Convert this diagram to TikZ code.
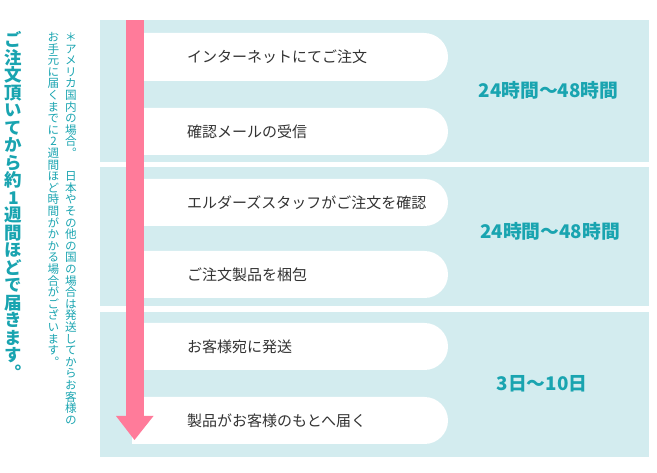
\documentclass[tikz,border=0pt]{standalone}
\usepackage{fontspec}
\setmainfont{Noto Sans CJK JP}
\newfontfamily\cjk{Noto Sans CJK JP}
\newfontfamily\cjkv[RawFeature={+vert}]{Noto Sans CJK JP}
\definecolor{band}{HTML}{D3ECEF}
\definecolor{teal}{HTML}{19A4B0}
\definecolor{pink}{HTML}{FF7B9A}
\definecolor{ink}{HTML}{333333}
\ExplSyntaxOn
\NewDocumentCommand\vstack{m}{
  \vbox{\offinterlineskip
    \tl_map_inline:nn {#1}{\hbox to 1em{\hss\vrule width 0pt height .88em depth .12em\relax ##1\hss}}}
}
\ExplSyntaxOff
\tikzset{
  bandbox/.style={fill=band},
  pillbox/.style={fill=white},
  pilltext/.style={anchor=west, inner sep=0pt, text=ink, font=\cjk\fontsize{15}{15}\selectfont},
  timetext/.style={inner sep=0pt, text=teal, font=\cjk\bfseries\fontsize{18.8}{18.8}\selectfont},
  vmain/.style={anchor=north, inner sep=0pt, text=teal, font=\cjkv\bfseries\fontsize{17.5}{17.5}\selectfont},
  vnote/.style={anchor=north, inner sep=0pt, text=teal, font=\cjkv\fontsize{11.6}{11.6}\selectfont},
  arrowfill/.style={fill=pink}
}
\begin{document}
\begin{tikzpicture}[x=1pt,y=-1pt]
\useasboundingbox (0,0) rectangle (657,473);
% bands
\fill[bandbox] (100,20) rectangle (649,162);
\fill[bandbox] (100,167) rectangle (649,306);
\fill[bandbox] (100,312) rectangle (649,457);
% pills
\foreach \t/\b in {33/81, 108/155, 179/226, 251/298, 323/370, 397/444}{
  \pgfmathsetmacro\r{(\b-\t)/2}
  \fill[pillbox] (132,\t) -- ({448-\r},\t) arc[start angle=-90,end angle=90,radius=\r] -- (132,\b) -- cycle;
}
% arrow
\coordinate (arrowtop) at (135,20);
\coordinate (arrowtip) at (134.5,440);
\fill[arrowfill] (126,20) rectangle (144,416.5);
\fill[arrowfill] (116,416) -- (153.5,416) -- (arrowtip) -- cycle;
% pill texts
\node[pilltext] (s1) at (187,57) {インターネットにてご注文};
\node[pilltext] (s2) at (187,131.5) {確認メールの受信};
\node[pilltext] (s3) at (187,202.5) {エルダーズスタッフがご注文を確認};
\node[pilltext] (s4) at (187,274.5) {ご注文製品を梱包};
\node[pilltext] (s5) at (187,346.5) {お客様宛に発送};
\node[pilltext] (s6) at (187,420.5) {製品がお客様のもとへ届く};
% times
\node[timetext] (t1) at (548.5,90.5) {24時間〜48時間};
\node[timetext] (t2) at (550,231.5) {24時間〜48時間};
\node[timetext] (t3) at (542,384) {3日〜10日};
% vertical texts
\node[vmain] (v1) at (13.5,31) {\vstack{ご注文頂いてから約1週間ほどで届きます。}};
\node[vnote] (v2) at (71,31) {\vstack{＊アメリカ国内の場合。　日本やその他の国の場合は発送してからお客様の}};
\node[vnote] (v3) at (53.5,31) {\vstack{お手元に届くまでに2週間ほど時間がかかる場合がございます。}};
\end{tikzpicture}
\end{document}
